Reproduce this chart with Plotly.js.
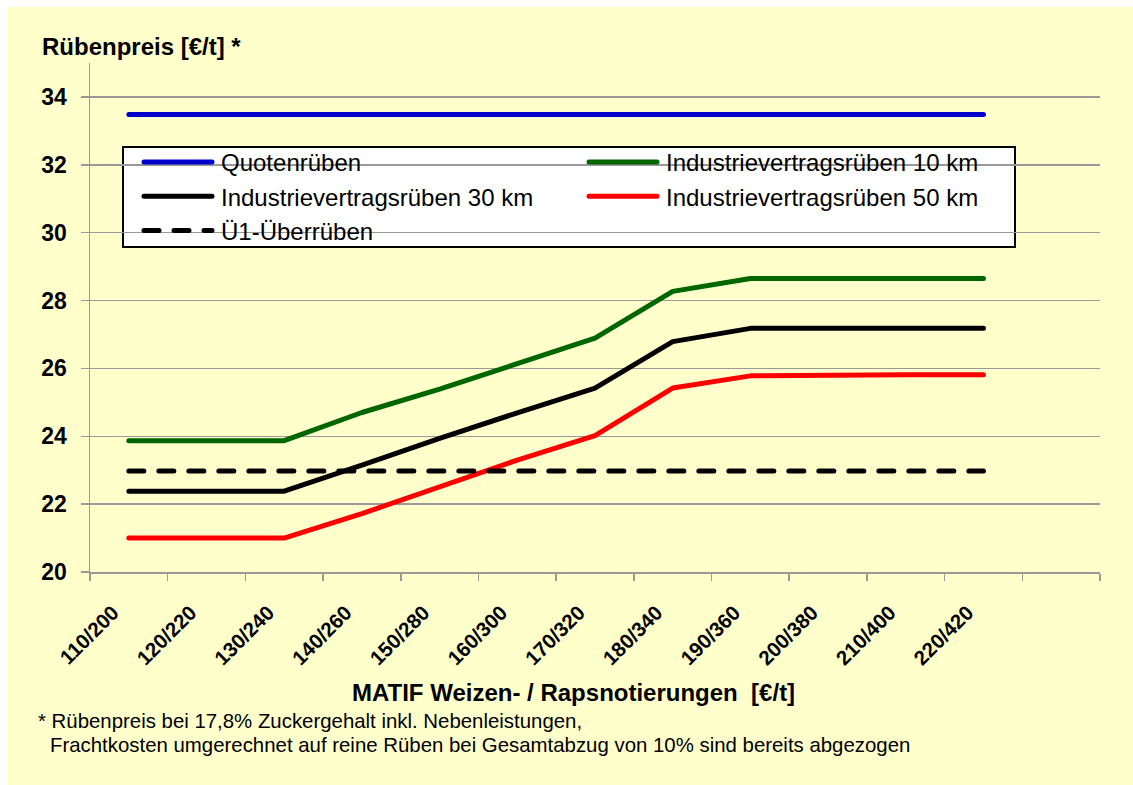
<!DOCTYPE html>
<html>
<head>
<meta charset="utf-8">
<script src="https://cdn.plot.ly/plotly-3.0.1.min.js"></script>
<style>
  html, body { margin: 0; padding: 0; background: #ffffff; }
  #chart { position: absolute; left: 8px; top: 7px; width: 1125px; height: 778px; }
  .scatterlayer path.js-line, .legend path.js-line { stroke-linecap: round; stroke-linejoin: round; }
  .legend path.js-line { d: path("M8,0h68"); }
</style>
</head>
<body>
<div id="chart"></div>
<script>
// Categories: MATIF wheat / rapeseed quotations [€/t]
const categories = ["110/200","120/220","130/240","140/260","150/280","160/300",
                    "170/320","180/340","190/360","200/380","210/400","220/420"];

// Beet prices [€/t]
const quotenrueben      = [33.48,33.48,33.48,33.48,33.48,33.48,33.48,33.48,33.48,33.48,33.48,33.48];
const industrie10km     = [23.87,23.87,23.87,24.70,25.39,26.14,26.89,28.27,28.65,28.65,28.65,28.65];
const industrie30km     = [22.38,22.38,22.38,23.15,23.94,24.69,25.42,26.79,27.18,27.18,27.18,27.18];
const industrie50km     = [21.00,21.00,21.00,21.72,22.52,23.30,24.02,25.42,25.78,25.81,25.81,25.81];
const ueberrueben       = [22.98,22.98,22.98,22.98,22.98,22.98,22.98,22.98,22.98,22.98,22.98,22.98];

const yTicks = [20,22,24,26,28,30,32,34];

const FONT = "Arial, 'Liberation Sans', sans-serif";

// pixel helpers for the plot frame (plot area spans x 90..1100, y 63..572 on the page)
const px = x => (x - 90) / 1010;
const py = y => (572 - y) / 509;

function line(name, y, color, dash) {
  return {
    type: "scatter", mode: "lines", name: name,
    x: categories, y: y,
    line: {color: color, width: 5, dash: dash || "solid"},
    hoverinfo: "x+y+name"
  };
}

const traces = [
  line("Quotenrüben", quotenrueben, "#0000CC"),
  line("Industrievertragsrüben 10 km", industrie10km, "#006600"),
  line("Industrievertragsrüben 30 km", industrie30km, "#000000"),
  line("Industrievertragsrüben 50 km", industrie50km, "#FF0000"),
  line("Ü1-Überrüben", ueberrueben, "#000000", "15px,15px")
];

const layout = {
  width: 1125, height: 778,
  paper_bgcolor: "#FFFFCC",
  plot_bgcolor: "#FFFFCC",
  margin: {l: 82, r: 33, t: 56, b: 213},
  font: {family: FONT, color: "#000000"},
  showlegend: true,
  legend: {
    orientation: "h",
    x: px(136), y: py(140), xanchor: "left", yanchor: "top",
    bgcolor: "rgba(0,0,0,0)", borderwidth: 0,
    itemwidth: 75,
    entrywidth: 355, entrywidthmode: "pixels",
    font: {family: FONT, size: 24, color: "#000000"},
    traceorder: "normal"
  },
  shapes: [
    {type: "rect", xref: "paper", yref: "paper", layer: "below",
     x0: px(123), x1: px(1015), y0: py(147), y1: py(247),
     fillcolor: "#FFFFFF", line: {color: "#000000", width: 2}}
  ],
  xaxis: {
    type: "category",
    categoryorder: "array",
    categoryarray: categories.concat([" "]),
    range: [-0.5, 12.5],
    tickson: "boundaries",
    ticks: "outside", ticklen: 7, tickwidth: 1.5, tickcolor: "#999999",
    showgrid: false,
    showline: true, linecolor: "#999999", linewidth: 1.5,
    tickangle: -45,
    ticklabelstandoff: 19,
    ticklabelshift: -16,
    tickfont: {family: FONT, size: 20.5, color: "#000000", weight: "bold"},
    zeroline: false,
    fixedrange: true
  },
  yaxis: {
    range: [20, 35],
    tickvals: yTicks,
    ticktext: yTicks.map(String),
    ticks: "outside", ticklen: 8, tickwidth: 1.5, tickcolor: "#999999",
    showgrid: true, gridcolor: "#999999", gridwidth: 1.5,
    showline: true, linecolor: "#999999", linewidth: 1.5,
    zeroline: false,
    ticklabelstandoff: 9,
    tickfont: {family: FONT, size: 23, color: "#000000", weight: "bold"},
    fixedrange: true
  },
  annotations: [
    {text: "<b>Rübenpreis [€/t] *</b>", xref: "paper", yref: "paper",
     x: px(40), y: py(47), xanchor: "left", yanchor: "middle",
     showarrow: false, font: {family: FONT, size: 24, color: "#000000"}},
    {text: "<b>MATIF Weizen- / Rapsnotierungen  [€/t]</b>", xref: "paper", yref: "paper",
     x: px(573), y: py(692), xanchor: "center", yanchor: "middle",
     showarrow: false, font: {family: FONT, size: 24, color: "#000000"}},
    {text: "* Rübenpreis bei 17,8% Zuckergehalt inkl. Nebenleistungen,", xref: "paper", yref: "paper",
     x: px(36), y: py(721), xanchor: "left", yanchor: "middle",
     showarrow: false, font: {family: FONT, size: 20.4, color: "#000000"}},
    {text: "Frachtkosten umgerechnet auf reine Rüben bei Gesamtabzug von 10% sind bereits abgezogen", xref: "paper", yref: "paper",
     x: px(48), y: py(745), xanchor: "left", yanchor: "middle",
     showarrow: false, font: {family: FONT, size: 20.4, color: "#000000"}}
  ]
};

Plotly.newPlot("chart", traces, layout, {displayModeBar: false, staticPlot: true});
</script>
</body>
</html>
